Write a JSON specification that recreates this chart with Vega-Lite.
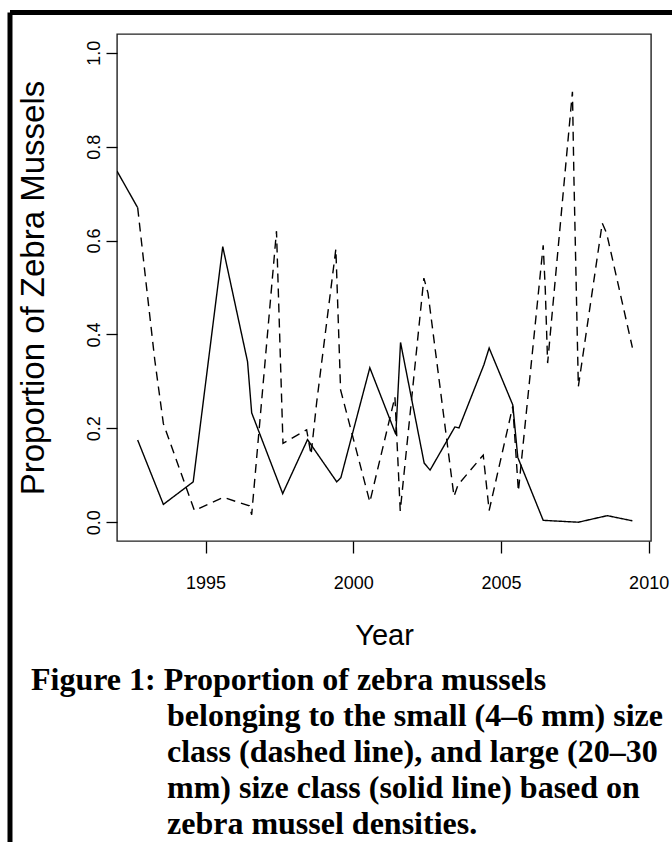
{
  "$schema": "https://vega.github.io/schema/vega-lite/v6.json",
  "width": 534,
  "height": 507,
  "autosize": {"type": "none"},
  "padding": {"left": 117, "top": 34, "right": 21, "bottom": 301},
  "background": "white",
  "config": {
    "view": {"stroke": "#222", "strokeWidth": 1.4},
    "font": "Liberation Sans"
  },
  "title": {
    "text": [
      "Figure 1: Proportion of zebra mussels",
      "\u200d\u00a0\u00a0\u00a0\u00a0\u00a0\u00a0\u00a0\u00a0\u00a0\u00a0\u00a0\u00a0\u00a0\u00a0\u00a0\u00a0\u00a0belonging to the small (4–6 mm) size",
      "\u200d\u00a0\u00a0\u00a0\u00a0\u00a0\u00a0\u00a0\u00a0\u00a0\u00a0\u00a0\u00a0\u00a0\u00a0\u00a0\u00a0\u00a0class (dashed line), and large (20–30",
      "\u200d\u00a0\u00a0\u00a0\u00a0\u00a0\u00a0\u00a0\u00a0\u00a0\u00a0\u00a0\u00a0\u00a0\u00a0\u00a0\u00a0\u00a0mm) size class (solid line) based on",
      "\u200d\u00a0\u00a0\u00a0\u00a0\u00a0\u00a0\u00a0\u00a0\u00a0\u00a0\u00a0\u00a0\u00a0\u00a0\u00a0\u00a0\u00a0zebra mussel densities."
    ],
    "orient": "bottom",
    "anchor": "start",
    "frame": "group",
    "dx": -86,
    "offset": -187,
    "font": "Liberation Serif",
    "fontSize": 32,
    "fontWeight": "bold",
    "color": "#000",
    "lineHeight": 36,
    "baseline": "top"
  },
  "datasets": {
    "mussels": [
      {"series": "start", "year": 1992.0, "p": 0.748},
      {"series": "start", "year": 1992.70, "p": 0.670},

      {"series": "small", "year": 1992.70, "p": 0.670},
      {"series": "small", "year": 1992.98, "p": 0.512},
      {"series": "small", "year": 1993.28, "p": 0.345},
      {"series": "small", "year": 1993.57, "p": 0.210},
      {"series": "small", "year": 1994.62, "p": 0.025},
      {"series": "small", "year": 1995.60, "p": 0.053},
      {"series": "small", "year": 1996.48, "p": 0.035},
      {"series": "small", "year": 1996.56, "p": 0.016},
      {"series": "small", "year": 1997.40, "p": 0.620},
      {"series": "small", "year": 1997.62, "p": 0.168},
      {"series": "small", "year": 1998.42, "p": 0.197},
      {"series": "small", "year": 1998.57, "p": 0.144},
      {"series": "small", "year": 1998.76, "p": 0.255},
      {"series": "small", "year": 1999.41, "p": 0.582},
      {"series": "small", "year": 1999.57, "p": 0.282},
      {"series": "small", "year": 2000.56, "p": 0.043},
      {"series": "small", "year": 2001.41, "p": 0.267},
      {"series": "small", "year": 2001.59, "p": 0.024},
      {"series": "small", "year": 2002.39, "p": 0.520},
      {"series": "small", "year": 2002.53, "p": 0.488},
      {"series": "small", "year": 2003.41, "p": 0.055},
      {"series": "small", "year": 2003.55, "p": 0.080},
      {"series": "small", "year": 2004.40, "p": 0.143},
      {"series": "small", "year": 2004.60, "p": 0.025},
      {"series": "small", "year": 2005.40, "p": 0.247},
      {"series": "small", "year": 2005.59, "p": 0.066},
      {"series": "small", "year": 2006.43, "p": 0.590},
      {"series": "small", "year": 2006.50, "p": 0.497},
      {"series": "small", "year": 2006.58, "p": 0.339},
      {"series": "small", "year": 2007.42, "p": 0.917},
      {"series": "small", "year": 2007.47, "p": 0.735},
      {"series": "small", "year": 2007.62, "p": 0.289},
      {"series": "small", "year": 2008.43, "p": 0.637},
      {"series": "small", "year": 2008.58, "p": 0.615},
      {"series": "small", "year": 2009.45, "p": 0.372},

      {"series": "large", "year": 1992.70, "p": 0.175},
      {"series": "large", "year": 1993.57, "p": 0.038},
      {"series": "large", "year": 1994.58, "p": 0.086},
      {"series": "large", "year": 1995.58, "p": 0.587},
      {"series": "large", "year": 1996.42, "p": 0.342},
      {"series": "large", "year": 1996.56, "p": 0.233},
      {"series": "large", "year": 1997.61, "p": 0.061},
      {"series": "large", "year": 1998.45, "p": 0.176},
      {"series": "large", "year": 1999.44, "p": 0.086},
      {"series": "large", "year": 1999.58, "p": 0.095},
      {"series": "large", "year": 2000.56, "p": 0.329},
      {"series": "large", "year": 2001.44, "p": 0.187},
      {"series": "large", "year": 2001.60, "p": 0.383},
      {"series": "large", "year": 2002.40, "p": 0.126},
      {"series": "large", "year": 2002.60, "p": 0.111},
      {"series": "large", "year": 2003.44, "p": 0.203},
      {"series": "large", "year": 2003.58, "p": 0.201},
      {"series": "large", "year": 2004.42, "p": 0.335},
      {"series": "large", "year": 2004.60, "p": 0.371},
      {"series": "large", "year": 2005.40, "p": 0.250},
      {"series": "large", "year": 2005.57, "p": 0.138},
      {"series": "large", "year": 2006.43, "p": 0.004},
      {"series": "large", "year": 2007.62, "p": 0.000},
      {"series": "large", "year": 2008.60, "p": 0.014},
      {"series": "large", "year": 2009.45, "p": 0.003}
    ]
  },
  "layer": [
    {
      "data": {"name": "mussels"},
      "mark": {"type": "line", "color": "#000", "strokeWidth": 1.4, "clip": true},
      "encoding": {
        "x": {
          "field": "year",
          "type": "quantitative",
          "scale": {"domain": [1992, 2010.08], "nice": false, "zero": false},
          "axis": {
            "values": [1995, 2000, 2005, 2010],
            "format": "d",
            "domain": false,
            "grid": false,
            "ticks": true,
            "tickSize": 12,
            "tickColor": "#000",
            "tickWidth": 1.3,
            "labelFont": "Liberation Sans",
            "labelFontSize": 18,
            "labelColor": "#000",
            "labelPadding": 21,
            "title": "Year",
            "titleFont": "Liberation Sans",
            "titleFontSize": 29,
            "titleFontWeight": "normal",
            "titleColor": "#000",
            "titlePadding": 29
          }
        },
        "y": {
          "field": "p",
          "type": "quantitative",
          "scale": {"domain": [-0.04, 1.04], "nice": false, "zero": false},
          "axis": {
            "values": [0, 0.2, 0.4, 0.6, 0.8, 1.0],
            "format": ".1f",
            "domain": false,
            "grid": false,
            "ticks": true,
            "tickSize": 11,
            "tickColor": "#000",
            "tickWidth": 1.3,
            "labelFont": "Liberation Sans",
            "labelFontSize": 18,
            "labelColor": "#000",
            "labelAngle": -90,
            "labelAlign": "center",
            "labelBaseline": "alphabetic",
            "labelPadding": 7,
            "title": "Proportion of Zebra Mussels",
            "titleFont": "Liberation Sans",
            "titleFontSize": 33,
            "titleFontWeight": "normal",
            "titleColor": "#000",
            "titleBaseline": "alphabetic",
            "titlePadding": 42
          }
        },
        "strokeDash": {
          "field": "series",
          "type": "nominal",
          "scale": {"domain": ["large", "start", "small"], "range": [[1, 0], [1, 0], [9, 6]]},
          "legend": null
        }
      }
    },
    {
      "data": {"values": [{}]},
      "mark": {"type": "rule", "color": "#000", "strokeWidth": 5, "clip": false},
      "encoding": {
        "x": {"datum": 1988.377, "type": "quantitative"},
        "y": {"datum": 1.0858, "type": "quantitative"},
        "y2": {"datum": -0.698}
      }
    },
    {
      "data": {"values": [{}]},
      "mark": {"type": "rule", "color": "#000", "strokeWidth": 5, "clip": false},
      "encoding": {
        "x": {"datum": 1988.377, "type": "quantitative"},
        "x2": {"datum": 2011.06},
        "y": {"datum": 1.0858, "type": "quantitative"}
      }
    }
  ]
}
